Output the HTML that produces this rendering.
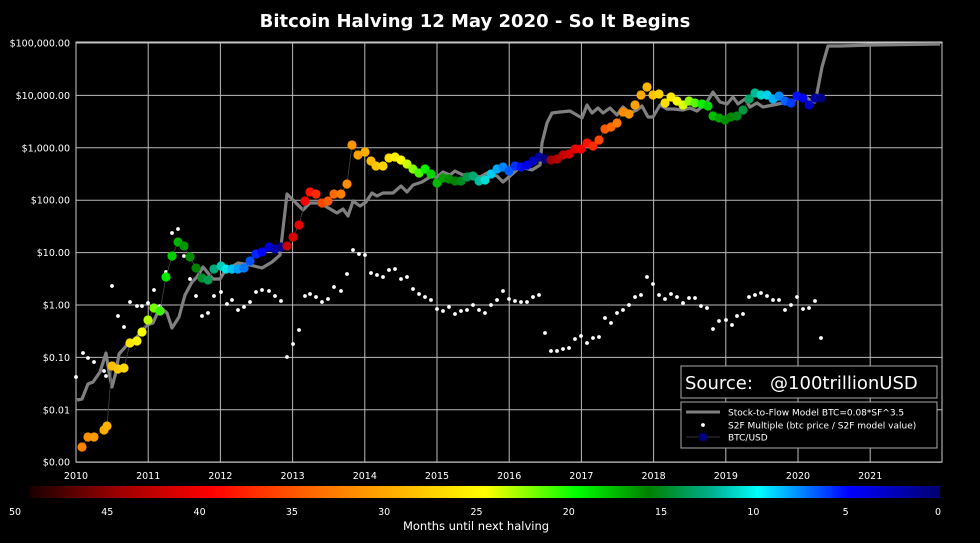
<!DOCTYPE html>
<html><head><meta charset="utf-8"><style>
html,body{margin:0;padding:0;background:#000;}
svg{display:block;font-family:"DejaVu Sans","Liberation Sans",sans-serif;}
</style></head><body>
<svg id="s" width="980" height="543" viewBox="0 0 980 543" xmlns="http://www.w3.org/2000/svg">
<rect width="980" height="543" fill="#000"/>
<text x="475" y="27" fill="#fff" font-size="18" font-weight="bold" text-anchor="middle">Bitcoin Halving 12 May 2020 - So It Begins</text>
<defs><linearGradient id="cb" x1="0" x2="1" y1="0" y2="0">
<stop offset="0" stop-color="#1a0000"/>
<stop offset="0.1" stop-color="#a00000"/>
<stop offset="0.2" stop-color="#ff0000"/>
<stop offset="0.3" stop-color="#ff6000"/>
<stop offset="0.4" stop-color="#ffb000"/>
<stop offset="0.5" stop-color="#ffff00"/>
<stop offset="0.6" stop-color="#00ff00"/>
<stop offset="0.68" stop-color="#008000"/>
<stop offset="0.75" stop-color="#00b090"/>
<stop offset="0.8" stop-color="#00ffff"/>
<stop offset="0.9" stop-color="#0000ff"/>
<stop offset="1" stop-color="#000070"/>
</linearGradient></defs>
<g id="grid"></g>
<g id="plot"></g>
</svg>
<script>
var NS="http://www.w3.org/2000/svg",g=document.getElementById('grid'),p=document.getElementById('plot'),s=document.getElementById('s');
function el(par,t,a,txt){var e=document.createElementNS(NS,t);for(var k in a)e.setAttribute(k,a[k]);if(txt!=null)e.textContent=txt;par.appendChild(e);return e;}
var L=76,R=942,T=42,B=462;
var ylab=["$100,000.00","$10,000.00","$1,000.00","$100.00","$10.00","$1.00","$0.10","$0.01","$0.00"];
for(var i=0;i<9;i++){var y=43+i*52.4;el(g,'line',{x1:L,x2:R,y1:y,y2:y,stroke:'#bbb','stroke-width':1});
el(g,'text',{x:70,y:y+3.5,fill:'#fff','font-size':9.5,'text-anchor':'end'},ylab[i]);}
for(var i=0;i<12;i++){var x=76+i*72.2;el(g,'line',{x1:x,x2:x,y1:T,y2:B,stroke:'#bbb','stroke-width':1});
el(g,'text',{x:x,y:479,fill:'#fff','font-size':9.5,'text-anchor':'middle'},2010+i);}
el(g,'rect',{x:L,y:T,width:R-L,height:B-T,fill:'none',stroke:'#ccc','stroke-width':1});
function pts(a){var r=[];for(var i=0;i<a.length;i+=2)r.push(a[i]+','+a[i+1]);return r.join(' ');}
var s2f=[77,400,82,399,88,384,93,382,100,372,106,353,109,372,112,387,116,372,119,354,127,345,137,337,147,325,153,323,160,307,167,313,172,328,179,317,185,295,192,282,197,277,203,267,213,279,220,279,225,271,238,263,250,265,262,268,272,262,280,255,287,194,303,210,310,203,320,203,337,213,343,209,348,216,353,201,360,206,366,202,372,193,377,196,383,193,393,193,401,186,407,192,413,185,422,182,430,177,437,177,443,172,450,175,455,171,463,175,470,174,480,177,487,173,497,176,503,182,510,176,520,167,532,170,540,165,542,143,547,123,552,113,560,112,570,111,582,118,587,105,592,113,598,108,603,113,610,108,617,115,623,107,630,113,637,110,642,106,648,117,653,117,660,105,667,109,673,109,683,110,690,108,697,111,707,102,713,92,720,102,727,104,733,97,738,104,745,99,750,107,757,103,763,107,773,105,783,103,793,101,803,95,810,100,815,102,817,93,822,67,828,46,840,46,873,45,940,44];
el(p,'polyline',{points:pts(s2f),fill:'none',stroke:'#808080','stroke-width':3.2,'stroke-linejoin':'round'});
var dots=[76,377,83,353,88,358,94,362,104,371,106,376,112,286,118,316,124,327,130,302,137,306,142,306,148,303,154,290,160,306,166,272,172,233,178,229,184,256,190,279,196,296,202,316,208,313,214,296,221,292,227,304,232,300,238,310,244,307,250,302,256,292,262,290,269,291,275,296,281,301,287,357,293,344,299,330,305,296,310,294,316,297,322,302,328,299,334,287,341,291,347,274,353,250,359,254,365,255,371,273,377,275,383,277,389,270,395,269,401,279,407,277,413,289,419,294,425,297,431,300,437,309,443,311,449,307,455,314,461,311,467,310,473,305,479,310,485,313,491,305,497,300,503,291,509,299,515,301,521,302,527,302,533,297,539,295,545,333,551,351,557,351,563,349,569,348,575,339,581,336,587,343,593,338,599,337,605,318,611,323,617,313,623,310,629,305,635,297,641,295,647,277,653,284,659,295,665,299,671,294,677,297,683,303,689,298,695,298,701,306,707,308,713,329,719,321,726,320,732,325,737,316,743,314,749,297,755,295,761,293,767,296,773,300,779,300,785,310,791,305,797,297,803,309,809,308,815,301,821,338];
for(var i=0;i<dots.length;i+=2)el(p,'circle',{cx:dots[i],cy:dots[i+1],r:1.9,fill:'#fff'});
var btc=[79,455,82,447,88,437,94,437,104,430,107,426,112,366,118,369,124,368,130,343,137,341,142,332,148,320,154,308,160,311,166,277,172,256,178,242,184,246,190,257,196,268,202,278,208,280,214,269,221,266,226,269,232,269,238,269,244,268,250,261,256,254,262,252,269,247,275,249,281,247,287,246,293,237,299,225,305,201,310,192,316,194,322,203,328,201,334,194,341,194,347,184,352,145,358,155,365,152,371,161,376,166,383,166,389,158,395,157,401,160,407,164,413,169,419,173,425,169,431,174,437,183,443,178,449,179,455,181,461,181,467,177,473,176,479,181,485,180,491,174,497,169,503,167,509,171,515,166,521,167,527,165,533,161,539,157,545,159,551,160,557,159,563,155,569,154,575,149,581,149,587,143,593,146,599,140,605,129,611,127,617,123,623,112,629,114,635,105,641,95,647,87,653,95,659,94,665,103,671,97,677,101,683,105,689,101,695,103,702,104,708,106,713,116,719,118,725,120,731,117,737,116,743,110,749,99,755,93,761,95,767,95,773,99,779,96,785,101,791,103,797,96,803,98,809,105,815,98,821,98];
el(p,'polyline',{points:pts(btc.slice(2)),fill:'none',stroke:'#444','stroke-width':0.8});
var stops=[[0,[0,0,112]],[4,[0,0,255]],[8,[0,160,255]],[10,[0,230,230]],[12,[0,170,120]],[15,[0,130,0]],[17,[0,150,0]],[20,[0,235,0]],[22,[120,255,0]],[24,[255,255,0]],[27,[255,215,0]],[30,[255,175,0]],[34,[255,130,0]],[37,[255,80,0]],[40,[255,0,0]],[45,[170,0,0]],[50,[30,0,0]]];
function col(m){m=Math.max(0,Math.min(50,m));for(var i=1;i<stops.length;i++){if(m<=stops[i][0]){var a=stops[i-1],b=stops[i],t=(m-a[0])/(b[0]-a[0]);var c=a[1].map(function(v,j){return Math.round(v+(b[1][j]-v)*t);});return 'rgb('+c.join(',')+')';}}return '#000';}
var hv=[2012.91,2016.52,2020.36];
for(var i=2;i<btc.length;i+=2){var yr=2010+(btc[i]-76)/72.2,h=hv[0];for(var j=0;j<3;j++){if(yr<hv[j]){h=hv[j];break;}}
el(p,'circle',{cx:btc[i],cy:btc[i+1],r:4.6,fill:col((h-yr)*12)});}
el(p,'rect',{x:681,y:366,width:256,height:32,fill:'#000',stroke:'#aaa','stroke-width':1});
el(p,'text',{x:685,y:389,fill:'#fff','font-size':18,'xml:space':'preserve',style:'white-space:pre'},'Source:   @100trillionUSD');
el(p,'rect',{x:681,y:402,width:256,height:46,fill:'#000',stroke:'#aaa','stroke-width':1});
el(p,'line',{x1:686,x2:720,y1:412,y2:412,stroke:'#808080','stroke-width':3});
el(p,'text',{x:728,y:415.5,fill:'#fff','font-size':9},'Stock-to-Flow Model BTC=0.08*SF^3.5');
el(p,'circle',{cx:703,cy:425,r:1.9,fill:'#fff'});
el(p,'text',{x:728,y:428.5,fill:'#fff','font-size':9},'S2F Multiple (btc price / S2F model value)');
el(p,'line',{x1:686,x2:720,y1:437,y2:437,stroke:'#444','stroke-width':0.8});
el(p,'circle',{cx:703,cy:437,r:4.3,fill:'#000080'});
el(p,'text',{x:728,y:440.5,fill:'#fff','font-size':9},'BTC/USD');
el(p,'rect',{x:30,y:486,width:910,height:12,fill:'url(#cb)'});
for(var k=0;k<=10;k++){var m=50-k*5;el(p,'text',{x:15+k*92.3,y:515,fill:'#fff','font-size':9.5,'text-anchor':'middle'},m);}
el(p,'text',{x:476,y:530,fill:'#fff','font-size':11.5,'text-anchor':'middle'},'Months until next halving');
</script>
</body></html>
